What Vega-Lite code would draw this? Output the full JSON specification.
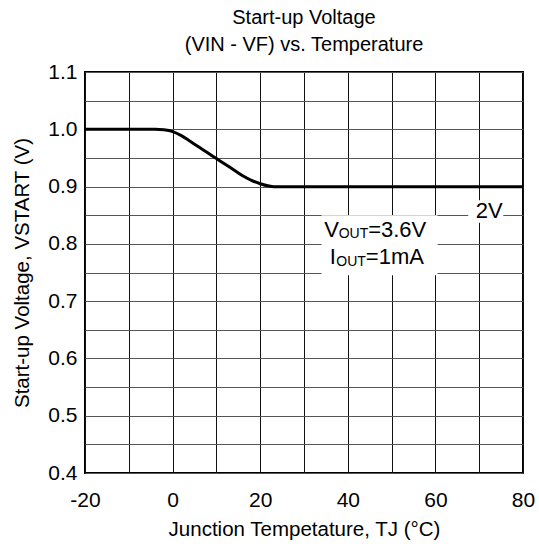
{
  "$schema": "https://vega.github.io/schema/vega-lite/v6.json",
  "autosize": "none",
  "width": 438,
  "height": 401,
  "padding": {"left": 85, "top": 72, "right": 16, "bottom": 74},
  "title": {
    "text": ["Start-up Voltage", "(VIN - VF) vs. Temperature"],
    "fontSize": 20,
    "fontWeight": "normal",
    "lineHeight": 27,
    "offset": 6,
    "anchor": "middle",
    "color": "black"
  },
  "datasets": {
    "curve": [
      {"t": -20, "v": 1.0},
      {"t": -10, "v": 1.0},
      {"t": -4, "v": 1.0},
      {"t": -2, "v": 0.999},
      {"t": 0, "v": 0.996},
      {"t": 2, "v": 0.989},
      {"t": 4, "v": 0.979},
      {"t": 6, "v": 0.969},
      {"t": 8, "v": 0.959},
      {"t": 10, "v": 0.949},
      {"t": 12, "v": 0.939},
      {"t": 14, "v": 0.929},
      {"t": 16, "v": 0.919},
      {"t": 18, "v": 0.911},
      {"t": 20, "v": 0.905},
      {"t": 22, "v": 0.901},
      {"t": 24, "v": 0.8995},
      {"t": 50, "v": 0.8995},
      {"t": 80, "v": 0.8995}
    ],
    "boxes": [
      {"x1": 34, "x2": 60.5, "y1": 0.745, "y2": 0.85},
      {"x1": 67.5, "x2": 75.5, "y1": 0.837, "y2": 0.876}
    ],
    "notes": [
      {"id": "vout", "x": 34.6, "y": 0.812},
      {"id": "iout", "x": 35.9, "y": 0.764},
      {"id": "2v", "x": 72.3, "y": 0.857}
    ]
  },
  "encoding": {
    "x": {
      "type": "quantitative",
      "scale": {"domain": [-20, 80], "nice": false, "zero": false},
      "axis": {
        "title": "Junction Tempetature, TJ (°C)",
        "grid": true,
        "values": [-20, -10, 0, 10, 20, 30, 40, 50, 60, 70, 80],
        "labelExpr": "datum.value % 20 == 0 ? '' + datum.value : ''"
      }
    },
    "y": {
      "type": "quantitative",
      "scale": {"domain": [0.4, 1.1], "nice": false, "zero": false},
      "axis": {
        "title": "Start-up Voltage, VSTART (V)",
        "grid": true,
        "values": [0.4, 0.45, 0.5, 0.55, 0.6, 0.65, 0.7, 0.75, 0.8, 0.85, 0.9, 0.95, 1.0, 1.05, 1.1],
        "labelExpr": "abs(round(datum.value * 20)) % 2 == 0 ? format(datum.value, '.1f') : ''"
      }
    }
  },
  "layer": [
    {
      "data": {"name": "boxes"},
      "mark": {"type": "rect", "fill": "white", "stroke": null},
      "encoding": {
        "x": {"field": "x1", "type": "quantitative"},
        "x2": {"field": "x2"},
        "y": {"field": "y1", "type": "quantitative"},
        "y2": {"field": "y2"}
      }
    },
    {
      "data": {"name": "curve"},
      "mark": {"type": "line", "color": "black", "strokeWidth": 3, "interpolate": "monotone"},
      "encoding": {
        "x": {"field": "t", "type": "quantitative"},
        "y": {"field": "v", "type": "quantitative"}
      }
    },
    {
      "data": {"name": "notes"},
      "transform": [{"filter": "datum.id == 'vout'"}],
      "encoding": {
        "x": {"field": "x", "type": "quantitative"},
        "y": {"field": "y", "type": "quantitative"}
      },
      "layer": [
        {"mark": {"type": "text", "text": "V", "align": "left", "baseline": "alphabetic", "fontSize": 22}},
        {"mark": {"type": "text", "text": "OUT", "align": "left", "baseline": "alphabetic", "fontSize": 14, "dx": 14.5, "dy": 1.5}},
        {"mark": {"type": "text", "text": "=3.6V", "align": "left", "baseline": "alphabetic", "fontSize": 22, "dx": 44}}
      ]
    },
    {
      "data": {"name": "notes"},
      "transform": [{"filter": "datum.id == 'iout'"}],
      "encoding": {
        "x": {"field": "x", "type": "quantitative"},
        "y": {"field": "y", "type": "quantitative"}
      },
      "layer": [
        {"mark": {"type": "text", "text": "I", "align": "left", "baseline": "alphabetic", "fontSize": 22}},
        {"mark": {"type": "text", "text": "OUT", "align": "left", "baseline": "alphabetic", "fontSize": 14, "dx": 6.5, "dy": 1.5}},
        {"mark": {"type": "text", "text": "=1mA", "align": "left", "baseline": "alphabetic", "fontSize": 22, "dx": 36}}
      ]
    },
    {
      "data": {"name": "notes"},
      "transform": [{"filter": "datum.id == '2v'"}],
      "mark": {"type": "text", "text": "2V", "align": "center", "baseline": "middle", "fontSize": 22},
      "encoding": {
        "x": {"field": "x", "type": "quantitative"},
        "y": {"field": "y", "type": "quantitative"}
      }
    }
  ],
  "config": {
    "font": "Liberation Sans",
    "view": {"stroke": "black", "strokeWidth": 2},
    "axis": {
      "domain": false,
      "ticks": false,
      "grid": true,
      "labelFont": "Liberation Sans",
      "labelFontSize": 21,
      "labelColor": "black",
      "titleFont": "Liberation Sans",
      "titleFontSize": 20.5,
      "titleFontWeight": "normal",
      "titleColor": "black",
      "labelFlush": false,
      "labelOverlap": false
    },
    "axisX": {"gridColor": "#111", "gridOpacity": 1, "gridWidth": 1, "labelPadding": 16, "titlePadding": 9},
    "axisY": {"gridColor": "#555", "gridOpacity": 1, "gridWidth": 1, "labelPadding": 8, "titlePadding": 15}
  }
}
